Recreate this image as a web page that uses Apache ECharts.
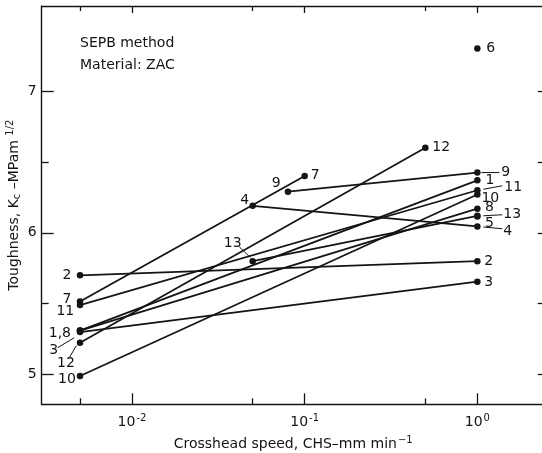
<!DOCTYPE html>
<html><head><meta charset="utf-8">
<script src="https://cdn.jsdelivr.net/npm/echarts@6/dist/echarts.min.js"></script>
<style>html,body{margin:0;padding:0;background:#fff}#c{width:542px;height:453px}</style>
</head><body><div id="c"></div>
<script>
// ---- data ----
const xMajorTicks = [0.01, 0.1, 1];
const xMajorTickExponents = ['-2', '-1', '0'];
const xMinorTicks = [0.005, 0.05, 0.5];
const yMajorTicks = [5, 6, 7];
const yMinorTicks = [5.5, 6.5];

const speed1 = [0.005, 1];    const k1 = [5.31, 6.37];
const speed2 = [0.005, 1];    const k2 = [5.70, 5.80];
const speed3 = [0.005, 1];    const k3 = [5.30, 5.655];
const speed4 = [0.05, 1];     const k4 = [6.19, 6.045];
const speed5 = [1];           const k5 = [6.115];
const speed6 = [1];           const k6 = [7.30];
const speed7 = [0.005, 0.1];  const k7 = [5.515, 6.40];
const speed8 = [0.005, 1];    const k8 = [5.31, 6.17];
const speed9 = [0.08, 1];     const k9 = [6.29, 6.425];
const speed10 = [0.005, 1];   const k10 = [4.99, 6.27];
const speed11 = [0.005, 1];   const k11 = [5.49, 6.30];
const speed12 = [0.005, 0.5]; const k12 = [5.225, 6.60];
const speed13 = [0.05, 1];    const k13 = [5.80, 6.12];

const seriesNames = ['1','2','3','4','5','6','7','8','9','10','11','12','13'];
const speeds = [speed1,speed2,speed3,speed4,speed5,speed6,speed7,speed8,speed9,speed10,speed11,speed12,speed13];
const toughness = [k1,k2,k3,k4,k5,k6,k7,k8,k9,k10,k11,k12,k13];

// ---- chart ----
const L = Math.log10;
const FONT = 'DejaVu Sans';
const INK = '#141414';
const xMin = L(0.003), xMax = L(2.455);
const yMin = 4.79, yMax = 7.6;

const series = seriesNames.map((n, i) => ({
  name: n, type: 'line', xAxisIndex: 0, yAxisIndex: 0,
  data: speeds[i].map((s, j) => [L(s), toughness[i][j]]),
  symbol: 'circle', symbolSize: 6.5, showSymbol: true,
  lineStyle: { color: INK, width: 1.75 },
  itemStyle: { color: INK },
  emphasis: { disabled: true }, silent: true, animation: false, z: 3
}));

function axisBase(extra, isX) {
  return Object.assign({
    type: 'value', gridIndex: 0,
    min: isX ? xMin : yMin, max: isX ? xMax : yMax,
    splitLine: { show: false },
    axisLine: { show: false, onZero: false },
    axisLabel: { show: false },
    axisTick: { show: false }
  }, extra);
}
const lineStyle = { color: INK, width: 1.4 };
const tickStyle = { color: INK, width: 1.3 };

const option = {
  animation: false,
  backgroundColor: '#fff',
  grid: { left: 41.7, top: 6, width: 503, height: 398.3, containLabel: false, outerBoundsMode: 'none' },
  xAxis: [
    axisBase({
      position: 'bottom',
      axisLine: { show: true, onZero: false, lineStyle: lineStyle },
      axisTick: { show: true, inside: true, length: 11, customValues: xMajorTicks.map(L), lineStyle: tickStyle },
      axisLabel: {
        show: true, margin: 9, customValues: xMajorTicks.map(L),
        formatter: v => {
          const i = xMajorTicks.findIndex(t => Math.abs(L(t) - v) < 1e-6);
          return i < 0 ? '' : '{b|10}{s|' + xMajorTickExponents[i] + '}';
        },
        rich: {
          b: { fontFamily: FONT, fontSize: 14, color: INK },
          s: { fontFamily: FONT, fontSize: 10, color: INK, padding: [0, 0, 9, 1] }
        }
      },
      name: '{t|Crosshead speed, CHS\u2013mm min}{s|\u22121}',
      nameLocation: 'middle', nameGap: 31,
      nameTextStyle: {
        rich: {
          t: { fontFamily: FONT, fontSize: 14, color: INK },
          s: { fontFamily: FONT, fontSize: 10, color: INK, padding: [0, 0, 9, 1] }
        }
      }
    }, true),
    axisBase({
      position: 'bottom',
      axisTick: { show: true, inside: true, length: 6, customValues: xMinorTicks.map(L), lineStyle: tickStyle }
    }, true),
    axisBase({
      position: 'top',
      axisLine: { show: true, onZero: false, lineStyle: lineStyle },
      axisTick: { show: true, inside: true, length: 7, customValues: xMajorTicks.map(L), lineStyle: tickStyle }
    }, true),
    axisBase({
      position: 'top',
      axisTick: { show: true, inside: true, length: 5, customValues: xMinorTicks.map(L), lineStyle: tickStyle }
    }, true)
  ],
  yAxis: [
    axisBase({
      position: 'left',
      axisLine: { show: true, onZero: false, lineStyle: lineStyle },
      axisTick: { show: true, inside: true, length: 12, customValues: yMajorTicks, lineStyle: tickStyle },
      axisLabel: { show: true, margin: 5, customValues: yMajorTicks, fontFamily: FONT, fontSize: 14, color: INK },
      name: '{t|Toughness, K}{c|c}{t| \u2013MPam }{h|1/2}',
      nameLocation: 'middle', nameGap: 18, nameRotate: 90, nameMoveOverlap: false,
      nameTextStyle: {
        rich: {
          t: { fontFamily: FONT, fontSize: 14, color: INK },
          c: { fontFamily: FONT, fontSize: 10, color: INK, padding: [6, 0, 0, 0] },
          h: { fontFamily: FONT, fontSize: 10, color: INK, padding: [0, 0, 8, 0] }
        }
      }
    }, false),
    axisBase({
      position: 'left',
      axisTick: { show: true, inside: true, length: 7, customValues: yMinorTicks, lineStyle: tickStyle }
    }, false),
    axisBase({
      position: 'right',
      axisLine: { show: false, onZero: false },
      axisTick: { show: true, inside: true, length: 7, customValues: yMajorTicks.concat(yMinorTicks), lineStyle: tickStyle }
    }, false)
  ],
  series: series
};

const chart = echarts.init(document.getElementById('c'), null, { renderer: 'canvas' });
chart.setOption(option);

// ---- annotations (series index, point index, text, dx, dy, align, leader [x1,y1,x2,y2] relative to point) ----
const annotations = [
  // right end
  [8, 1, '9', 24, 0, 'left', [4, 0, 22, 0]],
  [0, 1, '1', 12.7, 0, 'center', null],
  [10, 1, '11', 27, -3, 'left', [6, -1, 25, -4.5]],
  [9, 1, '10', 13, 4, 'center', null],
  [7, 1, '8', 12, -1.5, 'center', null],
  [12, 1, '13', 26, -1, 'left', [6, 0, 25, -1]],
  [4, 0, '5', 12, 6.5, 'center', null],
  [3, 1, '4', 26, 5, 'left', [6, 0.6, 25, 2.3]],
  [1, 1, '2', 7, 0.5, 'left', null],
  [2, 1, '3', 7, 0.5, 'left', null],
  [5, 0, '6', 9, 0, 'left', null],
  [11, 1, '12', 7, 0, 'left', null],
  // middle
  [6, 1, '7', 6, -1, 'left', null],
  [8, 0, '9', -11.7, -8.4, 'center', null],
  [3, 0, '4', -8, -5, 'center', null],
  [12, 0, '13', -20, -18, 'center', [-13.4, -14.3, -2.4, -3.7]],
  // left end
  [1, 0, '2', -13, 0, 'center', null],
  [6, 0, '7', -13, -2.4, 'center', null],
  [10, 0, '11', -14.7, 6.7, 'center', null],
  [0, 0, '1,8', -9, 2.3, 'right', null],
  [2, 0, '3', -26.4, 18.3, 'center', [-22.4, 15.7, -5.7, 5.7]],
  [11, 0, '12', -14, 21, 'center', [-11.4, 16.3, -3.7, 3]],
  [9, 0, '10', -13, 3.3, 'center', null]
];

const graphics = [];
annotations.forEach(a => {
  const [si, pi, txt, dx, dy, align, leader] = a;
  const p = chart.convertToPixel({ xAxisIndex: 0, yAxisIndex: 0 }, [L(speeds[si][pi]), toughness[si][pi]]);
  graphics.push({
    type: 'text', x: p[0] + dx, y: p[1] + dy, silent: true, z: 10,
    style: { text: txt, font: '14px "' + FONT + '"', fill: INK, textAlign: align, textVerticalAlign: 'middle' }
  });
  if (leader) {
    graphics.push({
      type: 'line', silent: true, z: 10,
      shape: { x1: p[0] + leader[0], y1: p[1] + leader[1], x2: p[0] + leader[2], y2: p[1] + leader[3] },
      style: { stroke: INK, lineWidth: 1 }
    });
  }
});
graphics.push({
  type: 'text', left: 80, top: 33, silent: true, z: 10,
  style: { text: 'SEPB method\nMaterial: ZAC', font: '14px "' + FONT + '"', fill: INK, lineHeight: 21.7 }
});
chart.setOption({ graphic: graphics });
</script>
</body></html>
